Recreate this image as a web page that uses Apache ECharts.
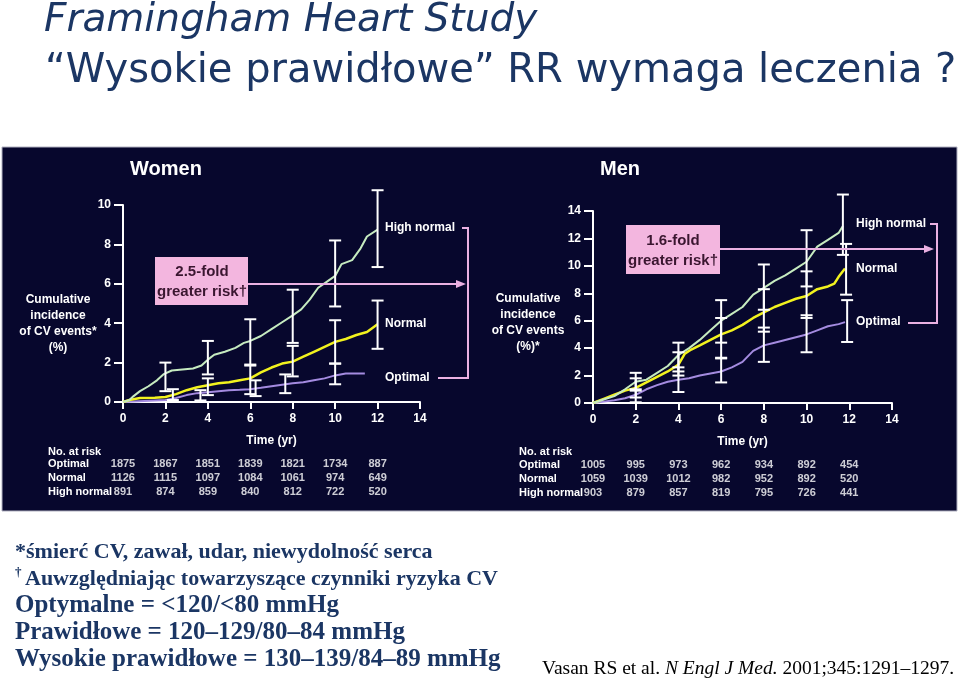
<!DOCTYPE html>
<html><head><meta charset="utf-8">
<script src="https://cdn.jsdelivr.net/npm/echarts@6/dist/echarts.min.js"></script>
<style>html,body{margin:0;padding:0;background:#fff}#c{width:960px;height:682px}</style>
</head><body><div id="c"></div>
<script>
// ---------- data ----------
var ticksX = [0, 2, 4, 6, 8, 10, 12, 14];
var riskTimes = [0, 2, 4, 6, 8, 10, 12];
var groups = ['Optimal', 'Normal', 'High normal'];

var womenHighNormal = [[0,0],[0.3,0.1],[0.5,0.3],[0.8,0.55],[1.2,0.8],[1.6,1.1],[1.9,1.4],[2.3,1.6],[2.8,1.65],[3.3,1.7],[3.7,1.85],[4.0,2.15],[4.3,2.4],[4.8,2.55],[5.3,2.75],[5.7,3.0],[6.0,3.1],[6.5,3.35],[7.0,3.7],[7.5,4.05],[8.0,4.4],[8.4,4.7],[8.8,5.2],[9.2,5.8],[9.6,6.1],[10.0,6.4],[10.3,7.0],[10.8,7.2],[11.2,7.8],[11.5,8.4],[12.0,8.75]];
var womenNormal = [[0,0],[0.3,0.1],[0.8,0.2],[1.5,0.22],[2.0,0.25],[2.5,0.4],[3.0,0.6],[3.5,0.75],[4.0,0.85],[4.5,0.95],[5.0,1.0],[5.5,1.1],[6.0,1.2],[6.5,1.5],[7.0,1.75],[7.5,1.95],[8.0,2.05],[8.5,2.3],[9.0,2.55],[9.5,2.8],[10.0,3.05],[10.5,3.2],[11.0,3.4],[11.5,3.55],[12.0,3.95]];
var womenOptimal = [[0,0],[1,0.05],[2,0.1],[2.5,0.2],[3.0,0.35],[3.5,0.45],[4.0,0.5],[4.5,0.55],[5.0,0.6],[5.5,0.62],[6.0,0.65],[6.5,0.72],[7.0,0.8],[7.5,0.88],[8.0,0.95],[8.5,1.0],[9.0,1.1],[9.5,1.2],[10.0,1.35],[10.5,1.45],[11.4,1.45]];
// error bars: [time, low, high]
var womenErrHighNormal = [[2,0.55,2.0],[4,1.4,3.1],[6,1.9,4.2],[8,3.0,5.7],[10,4.85,8.2],[12,6.85,10.75]];
var womenErrNormal = [[2.35,0.1,0.65],[4,0.35,1.2],[6,0.4,1.85],[8,1.3,2.85],[10,1.95,4.15],[12,2.7,5.15]];
var womenErrOptimal = [[3.65,0.08,0.6],[6.25,0.3,1.1],[7.65,0.45,1.4],[10,0.9,1.95]];

var menHighNormal = [[0,0],[0.5,0.25],[1,0.5],[1.5,1.0],[2,1.55],[2.5,1.7],[3,2.2],[3.5,2.7],[4,3.5],[4.5,4.0],[5,4.6],[5.5,5.3],[6,6.0],[6.5,6.5],[7,7.0],[7.5,7.9],[8,8.4],[8.5,8.9],[9,9.3],[9.5,9.8],[10,10.3],[10.5,11.4],[11,11.9],[11.5,12.4],[11.7,12.9]];
var menNormal = [[0,0],[0.5,0.3],[1,0.6],[1.5,0.9],[2,1.1],[2.5,1.5],[3,1.9],[3.5,2.3],[4,2.8],[4.3,3.6],[4.6,3.9],[5,4.2],[5.5,4.6],[6,5.0],[6.5,5.3],[7,5.7],[7.5,6.2],[8,6.6],[8.5,7.0],[9,7.3],[9.5,7.6],[10,7.8],[10.5,8.3],[11,8.5],[11.3,8.7],[11.5,9.2],[11.8,9.8]];
var menOptimal = [[0,0],[0.5,0.1],[1,0.2],[1.5,0.35],[2,0.6],[2.5,1.0],[3,1.3],[3.5,1.55],[4,1.7],[4.5,1.8],[5,2.0],[5.5,2.15],[6,2.3],[6.5,2.6],[7,3.0],[7.5,3.8],[8,4.2],[8.5,4.4],[9,4.6],[9.5,4.8],[10,5.0],[10.5,5.3],[11,5.6],[11.5,5.75],[11.8,5.9]];
var menErrHighNormal = [[2,1.0,2.2],[4,2.3,4.4],[6,4.4,7.5],[8,6.8,10.1],[10,8.5,12.6],[11.7,10.8,15.2]];
var menErrNormal = [[2,0.4,1.8],[4,2.0,3.7],[6,3.3,6.2],[8,5.2,8.3],[10,6.2,9.6],[11.85,7.9,11.6]];
var menErrOptimal = [[2,0.05,0.9],[4,0.8,2.6],[6,1.5,3.25],[8,3.0,5.5],[10,3.7,6.4],[11.9,4.45,7.5]];

var womenRisk = {'Optimal':[1875,1867,1851,1839,1821,1734,887], 'Normal':[1126,1115,1097,1084,1061,974,649], 'High normal':[891,874,859,840,812,722,520]};
var menRisk = {'Optimal':[1005,995,973,962,934,892,454], 'Normal':[1059,1039,1012,982,952,892,520], 'High normal':[903,879,857,819,795,726,441]};

// ---------- styles ----------
var SANS = 'Liberation Sans, Arial, sans-serif';
var SERIF = 'Liberation Serif, Times New Roman, serif';
var NAVY = '#1b3664';
var C_HN = '#c6ebc0', C_N = '#f2f21e', C_O = '#a48be0';
var PINK = '#f3b6df', PINKLINE = '#eab0e2';

function errRender(params, api) {
  var x = api.value(0), lo = api.value(1), hi = api.value(2);
  var p1 = api.coord([x, hi]), p2 = api.coord([x, lo]);
  var w = 6, st = {stroke: '#ffffff', lineWidth: 2};
  return {type: 'group', children: [
    {type: 'line', shape: {x1: p1[0], y1: p1[1], x2: p2[0], y2: p2[1]}, style: st},
    {type: 'line', shape: {x1: p1[0]-w, y1: p1[1], x2: p1[0]+w, y2: p1[1]}, style: st},
    {type: 'line', shape: {x1: p2[0]-w, y1: p2[1], x2: p2[0]+w, y2: p2[1]}, style: st}
  ]};
}

function valueAxisX(gi) {
  return {type: 'value', gridIndex: gi, min: 0, max: 14, interval: 2,
    axisLine: {show: true, lineStyle: {color: '#fff', width: 2}},
    axisTick: {show: true, length: 7, lineStyle: {color: '#fff', width: 2}},
    axisLabel: {color: '#fff', fontFamily: SANS, fontWeight: 'bold', fontSize: 12, margin: 11},
    splitLine: {show: false},
    name: 'Time (yr)', nameLocation: 'middle', nameGap: 33,
    nameTextStyle: {color: '#fff', fontFamily: SANS, fontWeight: 'bold', fontSize: 12}};
}
function valueAxisY(gi, max) {
  return {type: 'value', gridIndex: gi, min: 0, max: max, interval: 2,
    axisLine: {show: true, lineStyle: {color: '#fff', width: 2}},
    axisTick: {show: true, length: 9, lineStyle: {color: '#fff', width: 2}},
    axisLabel: {color: '#fff', fontFamily: SANS, fontWeight: 'bold', fontSize: 12, margin: 12},
    splitLine: {show: false}};
}
function tableAxisX(gi) {
  return {type: 'value', gridIndex: gi, min: 0, max: 14, show: false};
}
function tableAxisY(gi, margin) {
  return {type: 'category', gridIndex: gi, data: groups, inverse: true,
    axisLine: {show: false}, axisTick: {show: false}, splitLine: {show: false},
    axisLabel: {interval: 0, hideOverlap: false, color: '#fff', fontFamily: SANS, fontWeight: 'bold', fontSize: 11, align: 'left', margin: margin}};
}
function riskData(risk) {
  var out = [];
  groups.forEach(function (g) {
    risk[g].forEach(function (v, i) { out.push([riskTimes[i], g, v]); });
  });
  return out;
}
function lineSeries(name, data, color, xi, w) {
  return {type: 'line', name: name, xAxisIndex: xi, yAxisIndex: xi, data: data, symbol: 'none',
    lineStyle: {color: color, width: w || 2}, z: 3, silent: true};
}
function errSeries(data, xi) {
  return {type: 'custom', xAxisIndex: xi, yAxisIndex: xi, data: data, renderItem: errRender,
    encode: {x: 0, y: [1, 2]}, z: 4, silent: true};
}
function tableSeries(risk, xi) {
  return {type: 'scatter', xAxisIndex: xi, yAxisIndex: xi, data: riskData(risk), symbolSize: 1,
    itemStyle: {color: 'rgba(0,0,0,0)'}, silent: true,
    label: {show: true, position: 'inside', color: '#fff', fontFamily: SANS, fontWeight: 'bold', fontSize: 11,
      formatter: function (p) { return String(p.value[2]); }}};
}

function txt(x, y, s, opt) {
  opt = opt || {};
  return {type: 'text', x: x, y: y, z: opt.z || 50, style: {text: s, fill: opt.fill || '#fff',
    font: opt.font || ('bold 12px ' + SANS), textAlign: opt.align || 'left', textVerticalAlign: 'middle', rich: opt.rich}};
}
function poly(points, color, w) {
  return {type: 'polyline', z: 40, shape: {points: points}, style: {stroke: color, lineWidth: w || 2, fill: null}};
}
function arrowHead(x, y, color) {
  return {type: 'polygon', z: 40, shape: {points: [[x, y], [x-10, y-4], [x-10, y+4]]}, style: {fill: color}};
}

var graphics = [
  // dark panel
  {type: 'rect', z: -10, shape: {x: 2, y: 147, width: 955, height: 364}, style: {fill: '#07072d', stroke: '#b0b0c0', lineWidth: 1}},
  // title
  txt(44, 21, 'Framingham Heart Study', {fill: NAVY, font: 'italic 39px DejaVu Sans, sans-serif'}),
  txt(45, 72, '\u201cWysokie prawid\u0142owe\u201d RR wymaga leczenia ?', {fill: NAVY, font: '40px DejaVu Sans, sans-serif'}),
  // panel titles
  txt(166, 169, 'Women', {font: 'bold 20px ' + SANS, align: 'center'}),
  txt(620, 169, 'Men', {font: 'bold 20px ' + SANS, align: 'center'}),
  // y axis names
  txt(58, 300, 'Cumulative', {align: 'center'}), txt(58, 316, 'incidence', {align: 'center'}),
  txt(58, 332, 'of CV events*', {align: 'center'}), txt(58, 348, '(%)', {align: 'center'}),
  txt(528, 299, 'Cumulative', {align: 'center'}), txt(528, 315, 'incidence', {align: 'center'}),
  txt(528, 331, 'of CV events', {align: 'center'}), txt(528, 347, '(%)*', {align: 'center'}),
  // No. at risk
  txt(48, 452, 'No. at risk', {font: 'bold 11px ' + SANS}),
  txt(519, 452, 'No. at risk', {font: 'bold 11px ' + SANS}),
  // series labels
  txt(385, 228, 'High normal'), txt(385, 324, 'Normal'), txt(385, 378, 'Optimal'),
  txt(856, 224, 'High normal'), txt(856, 269, 'Normal'), txt(856, 322, 'Optimal'),
  // brackets & arrows
  poly([[462, 228], [468, 228], [468, 378], [438, 378]], PINKLINE, 2),
  poly([[248, 284], [458, 284]], PINKLINE, 2), arrowHead(466, 284, PINKLINE),
  poly([[930, 224], [937, 224], [937, 323], [908, 323]], PINKLINE, 2),
  poly([[720, 249], [926, 249]], PINKLINE, 2), arrowHead(934, 249, PINKLINE),
  // pink boxes
  {type: 'rect', z: 41, shape: {x: 155, y: 257, width: 93, height: 48}, style: {fill: PINK}},
  txt(202, 272, '2.5-fold', {fill: '#3a1630', font: 'bold 15px ' + SANS, align: 'center', z: 42}),
  txt(202, 292, 'greater risk\u2020', {fill: '#3a1630', font: 'bold 15px ' + SANS, align: 'center', z: 42}),
  {type: 'rect', z: 41, shape: {x: 626, y: 225, width: 94, height: 49}, style: {fill: PINK}},
  txt(673, 241, '1.6-fold', {fill: '#3a1630', font: 'bold 15px ' + SANS, align: 'center', z: 42}),
  txt(673, 261, 'greater risk\u2020', {fill: '#3a1630', font: 'bold 15px ' + SANS, align: 'center', z: 42}),
  // footnotes
  txt(15, 552, '*\u015bmier\u0107 CV, zawa\u0142, udar, niewydolno\u015b\u0107 serca', {fill: NAVY, font: 'bold 22px ' + SERIF}),
  txt(15, 573, '\u2020', {fill: NAVY, font: 'bold 13px ' + SERIF}),
  txt(25, 579, 'Auwzgl\u0119dniaj\u0105c towarzysz\u0105ce czynniki ryzyka CV', {fill: NAVY, font: 'bold 22px ' + SERIF}),
  txt(15, 606, 'Optymalne = <120/<80 mmHg', {fill: NAVY, font: 'bold 25px ' + SERIF}),
  txt(15, 633, 'Prawid\u0142owe = 120\u2013129/80\u201384 mmHg', {fill: NAVY, font: 'bold 25px ' + SERIF}),
  txt(15, 660, 'Wysokie prawid\u0142owe = 130\u2013139/84\u201389 mmHg', {fill: NAVY, font: 'bold 25px ' + SERIF}),
  {type: 'text', x: 542, y: 669, z: 50, style: {text: '{r|Vasan RS et al. }{i|N Engl J Med.}{r| 2001;345:1291\u20131297.}',
    textVerticalAlign: 'middle', rich: {r: {font: '19.5px ' + SERIF, fill: '#000'}, i: {font: 'italic 19.5px ' + SERIF, fill: '#000'}}}}
];

var chart = echarts.init(document.getElementById('c'), null, {renderer: 'canvas'});
chart.setOption({
  animation: false,
  backgroundColor: '#ffffff',
  grid: [
    {left: 123, top: 205, width: 297, height: 197},
    {left: 593, top: 211, width: 299, height: 192},
    {left: 123, top: 457, width: 297, height: 42},
    {left: 593, top: 458, width: 299, height: 42}
  ],
  xAxis: [valueAxisX(0), valueAxisX(1), tableAxisX(2), tableAxisX(3)],
  yAxis: [valueAxisY(0, 10), valueAxisY(1, 14), tableAxisY(2, 75), tableAxisY(3, 74)],
  series: [
    lineSeries('Optimal', womenOptimal, C_O, 0),
    lineSeries('Normal', womenNormal, C_N, 0, 2.5),
    lineSeries('High normal', womenHighNormal, C_HN, 0),
    errSeries(womenErrOptimal, 0), errSeries(womenErrNormal, 0), errSeries(womenErrHighNormal, 0),
    lineSeries('Optimal', menOptimal, C_O, 1),
    lineSeries('Normal', menNormal, C_N, 1, 2.5),
    lineSeries('High normal', menHighNormal, C_HN, 1),
    errSeries(menErrOptimal, 1), errSeries(menErrNormal, 1), errSeries(menErrHighNormal, 1),
    tableSeries(womenRisk, 2), tableSeries(menRisk, 3)
  ],
  graphic: {elements: graphics}
});
</script></body></html>
